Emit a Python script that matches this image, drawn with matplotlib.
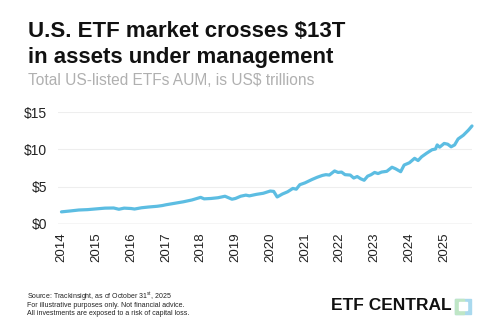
import matplotlib
matplotlib.use("Agg")
import matplotlib.pyplot as plt
from matplotlib.patches import Rectangle

# Total US-listed ETF AUM, US$ trillions
years = [
    2014.00, 2014.25, 2014.50, 2014.75, 2015.00, 2015.25, 2015.50, 2015.65,
    2015.80, 2016.00, 2016.10, 2016.30, 2016.50, 2016.75, 2016.90, 2017.00,
    2017.25, 2017.50, 2017.75, 2018.00, 2018.10, 2018.30, 2018.50, 2018.70,
    2018.90, 2019.00, 2019.15, 2019.30, 2019.40, 2019.60, 2019.80, 2020.00,
    2020.10, 2020.20, 2020.35, 2020.50, 2020.65, 2020.75, 2020.85, 2021.00,
    2021.20, 2021.35, 2021.50, 2021.60, 2021.70, 2021.85, 2021.95, 2022.05,
    2022.15, 2022.30, 2022.40, 2022.50, 2022.60, 2022.70, 2022.80, 2022.90,
    2023.00, 2023.10, 2023.20, 2023.35, 2023.50, 2023.60, 2023.75, 2023.85,
    2024.00, 2024.15, 2024.25, 2024.35, 2024.50, 2024.65, 2024.75, 2024.80,
    2024.87, 2025.00, 2025.10, 2025.20, 2025.30, 2025.40, 2025.55, 2025.70,
    2025.80,
]
aum = [
    1.60, 1.72, 1.85, 1.90, 2.00, 2.10, 2.12, 1.95,
    2.10, 2.05, 1.98, 2.15, 2.25, 2.35, 2.45, 2.55,
    2.75, 2.95, 3.20, 3.55, 3.35, 3.40, 3.50, 3.70,
    3.30, 3.40, 3.70, 3.85, 3.75, 3.95, 4.10, 4.40,
    4.35, 3.60, 4.00, 4.30, 4.75, 4.65, 5.25, 5.50,
    5.95, 6.25, 6.50, 6.60, 6.55, 7.10, 6.90, 6.95,
    6.60, 6.55, 6.15, 6.35, 6.05, 5.85, 6.40, 6.60,
    6.90, 6.75, 6.95, 7.05, 7.60, 7.40, 7.00, 7.90,
    8.20, 8.80, 8.50, 9.00, 9.50, 9.95, 10.05, 10.60,
    10.30, 10.80, 10.70, 10.35, 10.60, 11.40, 11.90, 12.60,
    13.15,
]
tick_years = list(range(2014, 2026))
y_ticks = [0, 5, 10, 15]
y_labels = ["$0", "$5", "$10", "$15"]

fig = plt.figure(figsize=(5, 3.31), dpi=100)
ax = fig.add_axes([0.116, 0.324, 0.828, 0.337])

ax.plot(years, aum, color="#5cbde2", lw=2.3, solid_capstyle="round", clip_on=False, zorder=3)

ax.set_xlim(2013.9, 2025.8)
ax.set_ylim(0, 15)
ax.set_yticks(y_ticks)
ax.set_yticklabels(y_labels, family="Liberation Sans", fontsize=10, color="#222222")
ax.set_xticks(tick_years)
ax.set_xticklabels([str(y) for y in tick_years], rotation=90, family="Liberation Sans",
                   fontsize=9.5, color="#222222")
ax.tick_params(length=0, pad=6)
ax.tick_params(axis="y", pad=8)
ax.grid(axis="y", color="#eeeeee", lw=0.8)
ax.axhline(0, color="#d5d5d5", lw=1.0, zorder=2)
for s in ax.spines.values():
    s.set_visible(False)

# title and subtitle
fig.text(0.056, 1 - 36.7 / 331, "U.S. ETF market crosses $13T", family="Liberation Sans",
         weight="bold", fontsize=16, color="#111111", va="baseline")
fig.text(0.056, 1 - 63.3 / 331, "in assets under management", family="Liberation Sans",
         weight="bold", fontsize=16, color="#111111", va="baseline")
fig.text(0.056, 1 - 85 / 331, "Total US-listed ETFs AUM, is US$ trillions", family="Liberation Sans",
         fontsize=11.2, color="#b0b0b0", va="baseline")

# footer
footer = ["Source: Trackinsight, as of October 31$^{\\mathregular{st}}$, 2025",
          "For illustrative purposes only. Not financial advice.",
          "All investments are exposed to a risk of capital loss."]
for i, line in enumerate(footer):
    fig.text(0.054, 1 - (299 + i * 8) / 331, line, family="Liberation Sans", fontsize=5,
             color="#222222", va="baseline")

fig.text(452 / 500, 1 - 306 / 331, "ETF CENTRAL", family="Liberation Sans", weight="bold",
         fontsize=12.5, color="#111111", ha="right", va="center")
fig.patches.append(Rectangle((455 / 500, 1 - 314 / 331), 16 / 500, 15 / 331,
                             transform=fig.transFigure, color="#a9d9ee", zorder=1))
fig.patches.append(Rectangle((455 / 500, 1 - 314 / 331), 9 / 500, 15 / 331,
                             transform=fig.transFigure, color="#bfe6c6", zorder=2))
fig.patches.append(Rectangle((459 / 500, 1 - 310 / 331), 8 / 500, 8 / 331,
                             transform=fig.transFigure, color="white", zorder=3))

fig.savefig("out.png", dpi=100)
